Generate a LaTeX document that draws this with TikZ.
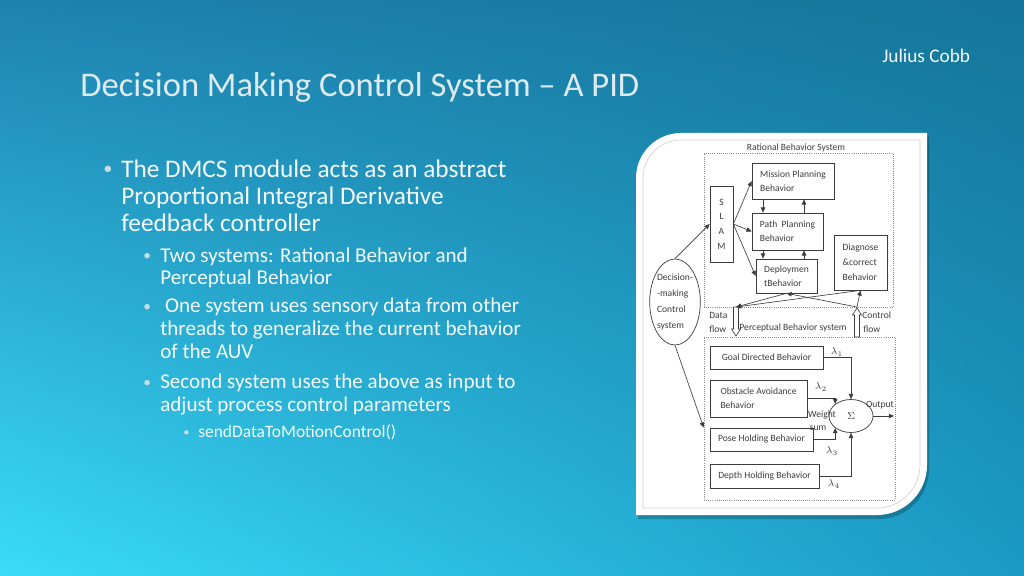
\documentclass[tikz,border=0pt]{standalone}
\usepackage{fontspec}
\setmainfont{Carlito}
\usepackage{xcolor}
\usepackage{tikz}
\usetikzlibrary{arrows.meta, positioning, shapes.geometric, shadings}
\definecolor{bgtopleft}  {HTML}{1E82B0}
\definecolor{bgtopright} {HTML}{157599}
\definecolor{bgbotleft}  {HTML}{3ADCFA}
\definecolor{bgbotright} {HTML}{1A9AC5}
\definecolor{titletext}  {HTML}{DDEBF0}
\definecolor{bodytext}   {HTML}{F4F9FB}
\definecolor{dotgray}    {HTML}{C9DCE4}
\definecolor{inkgray}    {HTML}{3C3C3C}
\definecolor{framegray}  {HTML}{8A8A8A}
\newcommand{\diafont}{\fontsize{6.8}{10}\selectfont}

\begin{document}
\begin{tikzpicture}[x=0.025cm, y=-0.025cm,
    box/.style={draw=inkgray, line width=0.5pt, fill=white, align=left,
                inner sep=0pt, font=\diafont, text=inkgray},
    frame/.style={draw=framegray, densely dotted, line width=0.5pt},
    arr/.style={-{Triangle[length=1.3mm, width=1.1mm]}, draw=inkgray, line width=0.45pt},
    hollow/.style={draw=inkgray, fill=white, line width=0.45pt},
    lbl/.style={font=\diafont, text=inkgray, inner sep=0pt},
    bullet/.style={anchor=base west, inner sep=0pt, text=bodytext, align=left},
    dot/.style={anchor=base west, inner sep=0pt, text=dotgray},
  ]
    % slide background
    \useasboundingbox (0,0) rectangle (1024,576);
    \shade[upper left=bgtopleft, upper right=bgtopright,
           lower left=bgbotleft, lower right=bgbotright] (0,0) rectangle (1024,576);

    % slide texts (base = last line)
    \node[anchor=base west, inner sep=0pt, text=bodytext, font=\fontsize{13.7}{16}\selectfont]
      (author) at (882,63) {Julius Cobb};
    \node[anchor=base west, inner sep=0pt, text=titletext, font=\fontsize{24.6}{28}\selectfont]
      (title) at (80,97) {Decision Making Control System – A PID};

    \node[dot, font=\fontsize{13}{14}\selectfont] (dot1) at (103,175) {•};
    \node[bullet, font=\fontsize{18}{19.5}\selectfont] (pt1) at (121,232)
      {The DMCS module acts as an abstract\\Proportional Integral Derivative\\feedback controller};
    \node[dot, font=\fontsize{11}{12}\selectfont] (dot2) at (143,261) {•};
    \node[bullet, font=\fontsize{15}{16.3}\selectfont] (pt2) at (160,285)
      {Two systems: Rational Behavior and\\Perceptual Behavior};
    \node[dot, font=\fontsize{11}{12}\selectfont] (dot3) at (143,312) {•};
    \node[bullet, font=\fontsize{15}{16.3}\selectfont] (pt3) at (160,358)
      {\ One system uses sensory data from other\\threads to generalize the current behavior\\of the AUV};
    \node[dot, font=\fontsize{11}{12}\selectfont] (dot4) at (143,387) {•};
    \node[bullet, font=\fontsize{15}{16.3}\selectfont] (pt4) at (160,411)
      {Second system uses the above as input to\\adjust process control parameters};
    \node[dot, font=\fontsize{9}{10}\selectfont] (dot5) at (183,436) {•};
    \node[bullet, font=\fontsize{12.4}{13}\selectfont] (pt5) at (198,437)
      {sendDataToMotionControl()};

    % picture panel
    \fill[black, opacity=0.22, shift={(2,4)}] (636,515) -- (636,178)
      arc[start angle=180, end angle=270, radius=45] -- (927,133) -- (927,465)
      arc[start angle=0, end angle=90, radius=50] -- cycle;
    \fill[white] (636,515) -- (636,178)
      arc[start angle=180, end angle=270, radius=45] -- (927,133) -- (927,465)
      arc[start angle=0, end angle=90, radius=50] -- cycle;
    \draw[black!20, line width=0.4pt] (643,508) -- (643,178)
      arc[start angle=180, end angle=270, radius=38] -- (920,140) -- (920,465)
      arc[start angle=0, end angle=90, radius=43] -- cycle;

    % system frames
    \node[frame, minimum width=4.725cm, minimum height=3.85cm] (rational) at (798.5,230) {};
    \node[frame, minimum width=4.775cm, minimum height=4.075cm] (percep) at (799.5,418.5) {};
    \node[lbl] (rationallbl) at (796,148) {Rational Behavior System};
    \node[lbl] (perceplbl) at (793,328) {Perceptual Behavior system};

    % rational behavior system
    \node[box, align=center, minimum width=0.575cm, minimum height=1.9cm,
          font=\fontsize{6.8}{10.4}\selectfont] (slam) at (721.5,224) {S\\L\\A\\M};
    \node[box, minimum width=2.05cm, minimum height=0.9cm] (mission) at (793,181)
      {Mission Planning\\Behavior};
    \node[box, minimum width=1.775cm, minimum height=0.925cm] (path) at (787.5,231.5)
      {Path\ \ Planning\\Behavior};
    \node[box, minimum width=1.525cm, minimum height=0.85cm] (deploy) at (786.5,276)
      {Deploymen\\tBehavior};
    \node[box, minimum width=1.325cm, minimum height=1.375cm, font=\fontsize{6.8}{10.6}\selectfont]
      (diag) at (860.5,262.5) {Diagnose\\\&correct\\Behavior};

    \node[draw=inkgray, line width=0.5pt, ellipse, minimum width=1.25cm, minimum height=2.15cm,
          inner sep=0pt, align=left, text=inkgray, font=\fontsize{6.8}{11.4}\selectfont]
      (dmcs) at (675,302) {Decision-\\-making\\Control\\system};

    % perceptual behavior system
    \node[box, minimum width=2.825cm, minimum height=0.575cm] (goal) at (766.5,357.5)
      {Goal Directed Behavior};
    \node[box, minimum width=2.425cm, minimum height=0.925cm] (obst) at (758.5,398.5)
      {Obstacle Avoidance\\Behavior};
    \node[box, minimum width=2.575cm, minimum height=0.575cm] (pose) at (761.5,439.5)
      {Pose Holding Behavior};
    \node[box, minimum width=2.725cm, minimum height=0.6cm] (depth) at (764.5,476)
      {Depth Holding Behavior};
    \node[draw=inkgray, line width=0.5pt, ellipse, minimum width=1.1cm, minimum height=0.825cm,
          inner sep=0pt, text=inkgray, font=\fontsize{7.5}{8}\selectfont] (sigma) at (851,416) {$\Sigma$};

    \node[lbl] (lam1) at (837,352) {$\lambda_1$};
    \node[lbl] (lam2) at (821,387) {$\lambda_2$};
    \node[lbl] (lam3) at (832,451) {$\lambda_3$};
    \node[lbl] (lam4) at (834,484) {$\lambda_4$};
    \node[lbl] (weight) at (822,415) {Weight};
    \node[lbl] (wsum) at (818,428) {sum};
    \node[lbl] (outlbl) at (880,405) {Output};

    % flow labels and hollow arrows
    \node[lbl, anchor=west] (data1) at (709,315) {Data};
    \node[lbl, anchor=west] (data2) at (709,329) {flow};
    \node[lbl, anchor=west] (ctrl1) at (862,315) {Control};
    \node[lbl, anchor=west] (ctrl2) at (863,329) {flow};
    \draw[hollow] (733.5,307) -- (733.5,329) -- (731.5,329) -- (736,336)
      -- (740.5,329) -- (738.5,329) -- (738.5,307) -- cycle;
    \draw[hollow] (854.5,337) -- (854.5,315) -- (852.5,315) -- (857,308)
      -- (861.5,315) -- (859.5,315) -- (859.5,337) -- cycle;

    \coordinate (dflow) at (736,307);
    \coordinate (cflow) at (857,307);
    \coordinate (dn) at (763,0);
    \coordinate (up) at (804,0);
    \coordinate (out) at (894,416);

    % connectors
    \draw[arr] (dmcs.north) -- (slam.west);
    \draw[arr] (dmcs.south) -- (percep.west |- pose.north);
    \draw[arr] (slam.east) -- (mission.west);
    \draw[arr] (slam.east) -- (path.west);
    \draw[arr] (slam.east) -- (deploy.west);
    \draw[arr] (mission.south -| dn) -- (path.north -| dn);
    \draw[arr] (path.north -| up) -- (mission.south -| up);
    \draw[arr] (path.south -| dn) -- (deploy.north -| dn);
    \draw[arr] (deploy.north -| up) -- (path.south -| up);
    \draw[arr] (deploy.south) -- (dflow);
    \draw[arr] (diag.south) -- (dflow);
    \draw[arr] (cflow) -- (deploy.south);
    \draw[arr] (cflow) -- (diag.south);

    \draw[arr] (goal.east) -| (sigma.north);
    \draw[arr] (obst.east) -| (sigma.north west);
    \draw[arr] (pose.east) -| (sigma.south west);
    \draw[arr] (depth.east) -| (sigma.south);
    \draw[arr] (sigma.east) -- (out);
\end{tikzpicture}
\end{document}
